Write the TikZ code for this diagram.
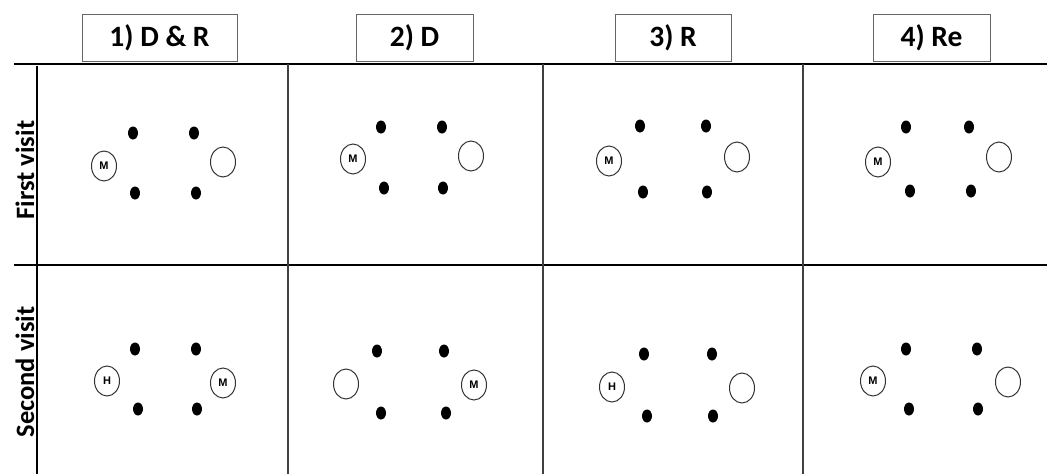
\documentclass[tikz,border=0pt]{standalone}
\usepackage{fontspec}
\setmainfont{Carlito}
\newfontfamily\markfont{Liberation Sans}
\usepackage{tikz}
\usetikzlibrary{shapes.geometric, positioning}
\tikzset{
	headbox/.style={draw=gray!80!black, line width=1pt, minimum height=47pt, inner sep=0pt, font=\fontsize{29.5}{31}\selectfont\bfseries},
	rowtext/.style={rotate=90, font=\fontsize{26.5}{28}\selectfont\bfseries},
	tableline/.style={line width=1.3pt},
	colline/.style={line width=1.6pt, black!75}
}
\tikzset{
	pin/.style={ellipse, fill=black, inner sep=0pt, minimum width=10pt, minimum height=13pt},
	hole/.style={ellipse, draw=black!80, line width=1pt, inner sep=0pt, minimum width=25pt, minimum height=30pt, font=\markfont\fontsize{11}{11}\selectfont\bfseries}
}

\begin{document}
\begin{tikzpicture}[x=1pt, y=-1pt]
      \useasboundingbox (0,0) rectangle (1047,474);
      % table
      \draw[tableline] (14,64) -- (1047,64);
      \draw[tableline] (14,265) -- (1047,265);
      \draw[tableline] (37,66) -- (37,474);
      \foreach \x in {288, 543, 803}
        \draw[colline] (\x,64) -- (\x,474);
      % headers
      \node[headbox, minimum width=155pt] (h1) at (159.5,37.5) {1) D \& R};
      \node[headbox, minimum width=117pt] (h2) at (414.5,37.5) {2) D};
      \node[headbox, minimum width=116pt] (h3) at (673,37.5) {3) R};
      \node[headbox, minimum width=117pt] (h4) at (931.5,37.5) {4) Re};
      \node[rowtext] (first) at (25,170) {First visit};
      \node[rowtext] (second) at (25,372) {Second visit};
      % cells: four pins, left and right holes
      \foreach \c/\xa/\xb/\xc/\xd/\ya/\yb/\lx/\ly/\lt/\rx/\ry/\rt in {
          a1/133/194/135/196/133/193/104/166/M/223/162/,
          a2/381/442/384/443/127/188/353/159/M/471/156/,
          a3/640/706/643/707/126/192/609/161/M/737/157/,
          a4/906/969/910/971/127/191/878/162/M/999/157/,
          b1/135/196/138/197/349/409/107/381/H/223/383/M,
          b2/377/444/381/446/351/413/346/384//474/385/M,
          b3/644/712/647/713/354/416/612/387/H/742/388/,
          b4/906/977/909/978/349/409/873/381/M/1008/382/}
      {
        \node[pin] (\c-tl) at (\xa,\ya) {};
        \node[pin] (\c-tr) at (\xb,\ya) {};
        \node[pin] (\c-bl) at (\xc,\yb) {};
        \node[pin] (\c-br) at (\xd,\yb) {};
        \node[hole] (\c-l) at (\lx,\ly) {\lt};
        \node[hole] (\c-r) at (\rx,\ry) {\rt};
      }
    \end{tikzpicture}
\end{document}
